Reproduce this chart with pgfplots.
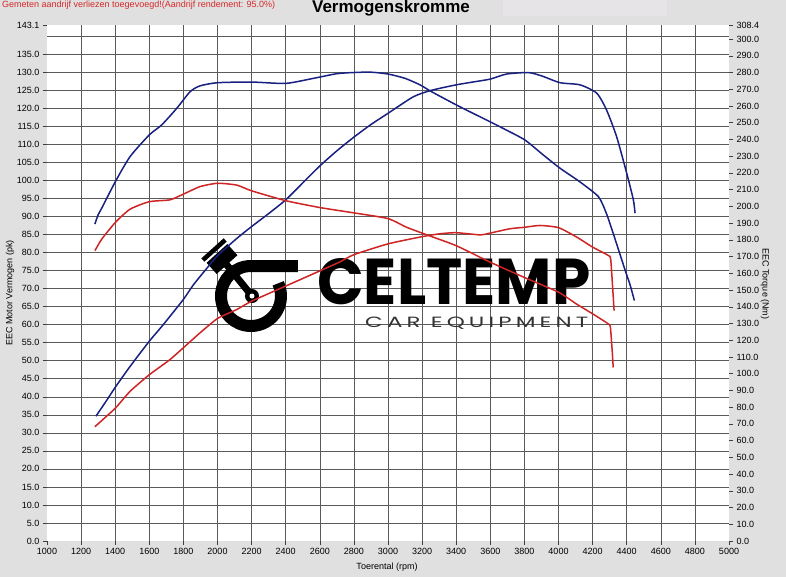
\documentclass[border=0pt]{standalone}
\usepackage{pgfplots}
\usepackage{pgfplotstable}
\pgfplotsset{compat=1.18}
\usepackage{fontspec}
\setmainfont{Liberation Sans}
\newfontfamily\logofont{Poppins}
\definecolor{bgc}{RGB}{224,224,224}
\definecolor{boxc}{RGB}{231,228,231}
\definecolor{notered}{RGB}{214,40,40}
\definecolor{blueline}{RGB}{24,32,128}
\definecolor{redline}{RGB}{206,36,36}
\definecolor{gridc}{RGB}{90,90,90}

% power (pk), tuned
\pgfplotstableread{
rpm pk
1287 34.6
1350 39.0
1400 42.6
1487 48.4
1600 55.4
1682 60.0
1800 67.0
1858 71.0
1937 75.6
2000 79.1
2113 83.9
2200 87.2
2300 90.8
2400 94.6
2500 99.3
2600 104.0
2700 108.2
2800 112.0
2900 115.5
3000 118.6
3149 123.2
3256 125.0
3400 126.5
3500 127.3
3600 128.1
3696 129.5
3823 129.9
3900 129.0
4009 127.1
4126 126.5
4224 124.2
4282 119.5
4341 112.1
4400 102.0
4439 94.6
4449 90.9
}\bluepower

% torque (Nm), tuned
\pgfplotstableread{
rpm nm
1281 189.4
1300 195.0
1321 198.9
1400 214.6
1487 229.7
1600 242.7
1673 248.7
1761 258.6
1839 268.5
1897 272.0
2000 273.9
2200 274.3
2400 273.5
2562 276.5
2700 279.3
2800 280.0
2900 280.2
3000 279.1
3100 276.5
3188 272.6
3256 268.5
3422 259.5
3598 250.6
3700 245.3
3804 239.6
3911 230.7
4009 222.8
4126 214.6
4234 205.8
4280 196.0
4321 183.8
4390 162.1
4420 153.0
4445 143.7
}\bluetorque

% power (pk), stock
\pgfplotstableread{
rpm pk
1281 31.7
1400 36.8
1487 41.5
1600 46.1
1721 50.3
1800 53.6
1897 57.7
2000 61.7
2113 64.2
2200 66.5
2400 70.7
2600 74.9
2718 77.4
2800 79.4
3000 82.4
3200 84.4
3305 85.2
3400 85.5
3540 84.9
3600 85.4
3716 86.6
3800 87.0
3892 87.5
4000 86.9
4106 84.3
4200 81.5
4292 79.2
4306 78.2
4318 70.0
4326 63.9
}\redpower

% torque (Nm), stock
\pgfplotstableread{
rpm nm
1281 173.5
1321 180.4
1400 190.3
1487 198.3
1600 202.8
1721 203.9
1800 207.3
1897 211.8
2000 213.8
2113 212.7
2200 209.3
2400 203.4
2600 199.3
2800 196.1
3000 192.7
3109 187.5
3227 183.0
3400 176.5
3600 166.6
3800 157.5
4000 148.7
4106 141.6
4200 135.8
4290 129.9
4304 128.0
4314 115.0
4321 103.7
}\redtorque

\tikzset{
  bcurve/.style={draw=blueline, line width=1.5pt, smooth, tension=0.4, mark=none},
  rcurve/.style={draw=redline, line width=1.5pt, smooth, tension=0.35, mark=none},
}

\begin{document}
\begin{tikzpicture}
\fill[bgc] (0,0) rectangle (786pt,577pt);
\fill[boxc] (503pt,561pt) rectangle (667pt,577pt);
\node[anchor=base west, font=\fontsize{9}{10}\selectfont, text=notered, inner sep=0] at (2pt,569pt)
  {Gemeten aandrijf verliezen toegevoegd!(Aandrijf rendement: 95.0\%)};
\node[anchor=base, font=\fontsize{17}{20}\selectfont\bfseries, inner sep=0] at (391pt,564pt) {Vermogenskromme};

\begin{axis}[
  at={(47pt,36pt)}, anchor=south west,
  scale only axis, width=682pt, height=516pt,
  xmin=1000, xmax=5000, ymin=0, ymax=143.1,
  axis background/.style={fill=white},
  axis line style={draw=none},
  tick align=outside, major tick length=4pt,
  tick style={black!75, line width=0.5pt},
  xtick pos=bottom, ytick pos=left,
  xtick={1000,1200,...,5000},
  ytick={0,5,10,15,20,25,30,35,40,45,50,55,60,65,70,75,80,85,90,95,100,105,110,115,120,125,130,135,143.1},
  extra x ticks={1200,1400,...,4800},
  extra x tick labels={},
  extra x tick style={grid=major, major tick length=0pt},
  extra y ticks={5,10,...,140},
  extra y tick labels={},
  extra y tick style={grid=major, major tick length=0pt},
  major grid style={gridc, line width=0.5pt},
  /pgf/number format/assume math mode=true,
  scaled x ticks=false, scaled y ticks=false,
  x tick label style={font=\fontsize{9}{10}\selectfont, /pgf/number format/1000 sep={}},
  y tick label style={font=\fontsize{9}{10}\selectfont, /pgf/number format/fixed, /pgf/number format/fixed zerofill, /pgf/number format/precision=1},
]
% logo (watermark)
\draw[line width=12pt, black] (axis cs:2472.1,76.26) -- (axis cs:2196.5,76.26) arc[start angle=90, end angle=385, radius=30pt];
\draw[line width=7pt, black] (axis cs:2026.4,78.2) -- (axis cs:2202.3,67.94);
\fill[black] (axis cs:2202.3,67.94) circle[radius=7pt];
\fill[white] (axis cs:2202.3,67.94) circle[radius=2.5pt];
\node[fill=black, rotate=42, minimum width=28pt, minimum height=15pt, inner sep=0] at (axis cs:2026.4,78.2) {};
\node[fill=black, rotate=42, minimum width=30pt, minimum height=4.5pt, inner sep=0] at (axis cs:1979.5,80.7) {};
\node[anchor=south west, inner sep=0] at (axis cs:2583.6,65.45) {\resizebox{273pt}{46pt}{\logofont\bfseries CELTEMP}};
\node[anchor=south west, inner sep=0, text=black!80] at (axis cs:2865.1,58.6) {\resizebox{223pt}{10.5pt}{\logofont\addfontfeatures{LetterSpace=18}CAR EQUIPMENT}};

\addplot[bcurve] table[x=rpm, y=pk] {\bluepower};
\addplot[rcurve] table[x=rpm, y=pk] {\redpower};
\end{axis}

\begin{axis}[
  at={(47pt,36pt)}, anchor=south west,
  scale only axis, width=682pt, height=516pt,
  xmin=1000, xmax=5000, ymin=0, ymax=308.4,
  hide x axis,
  axis line style={draw=none},
  tick align=outside, major tick length=4pt,
  tick style={black!75, line width=0.5pt},
  ytick pos=right, yticklabel pos=right,
  ytick={0,10,20,30,40,50,60,70,80,90,100,110,120,130,140,150,160,170,180,190,200,210,220,230,240,250,260,270,280,290,300,308.4},
  /pgf/number format/assume math mode=true,
  scaled y ticks=false,
  y tick label style={font=\fontsize{9}{10}\selectfont, /pgf/number format/fixed, /pgf/number format/fixed zerofill, /pgf/number format/precision=1},
]
\addplot[bcurve] table[x=rpm, y=nm] {\bluetorque};
\addplot[rcurve] table[x=rpm, y=nm] {\redtorque};
\end{axis}

\node[rotate=90, font=\fontsize{9}{10}\selectfont, inner sep=0] at (10pt,284pt) {EEC Motor Vermogen (pk)};
\node[rotate=-90, font=\fontsize{9}{10}\selectfont, inner sep=0] at (765pt,293pt) {EEC Torque (Nm)};
\node[font=\fontsize{9}{10}\selectfont, inner sep=0] at (387pt,10pt) {Toerental (rpm)};

\pgfresetboundingbox
\path (0,0) rectangle (786pt,577pt);
\end{tikzpicture}
\end{document}
